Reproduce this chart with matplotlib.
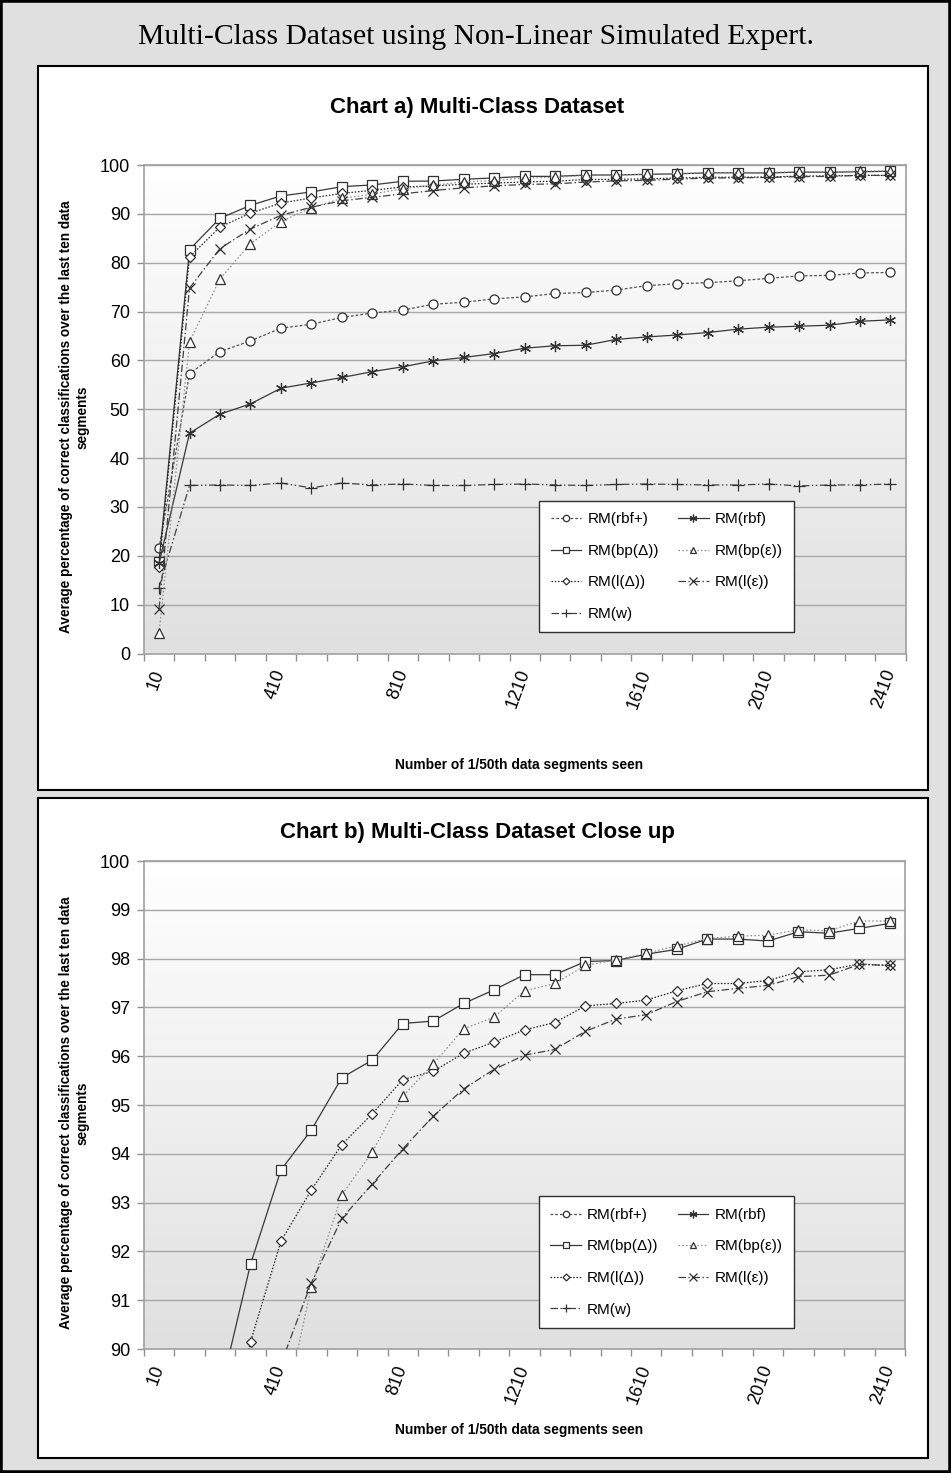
import numpy as np
import matplotlib
matplotlib.use('Agg')
import matplotlib.pyplot as plt
from matplotlib.patches import Rectangle
from matplotlib.colors import LinearSegmentedColormap

W, H = 951, 1473

# number of 1/50th data segments seen
segments = list(range(10, 2411, 100))
label_ticks = [10, 410, 810, 1210, 1610, 2010, 2410]

rbf_plus = [21.5, 57.3, 61.8, 64.0, 66.6, 67.4, 68.8, 69.7, 70.3, 71.5, 71.9, 72.6, 73.0,
            73.7, 73.9, 74.4, 75.3, 75.7, 75.9, 76.3, 76.8, 77.3, 77.4, 77.9, 78.0]
rbf = [18.5, 45.1, 49.0, 51.1, 54.3, 55.4, 56.5, 57.7, 58.7, 59.9, 60.6, 61.4, 62.5,
       63.0, 63.1, 64.3, 64.8, 65.2, 65.7, 66.4, 66.8, 67.0, 67.2, 68.0, 68.3]
bp_delta = [18.8, 82.7, 89.1, 91.74, 93.67, 94.49, 95.56, 95.92, 96.67, 96.72, 97.08, 97.36, 97.67,
            97.67, 97.94, 97.96, 98.09, 98.19, 98.40, 98.40, 98.36, 98.55, 98.52, 98.62, 98.72]
bp_eps = [4.1, 63.8, 76.7, 83.9, 88.4, 91.28, 93.16, 94.04, 95.18, 95.84, 96.56, 96.80, 97.34,
          97.49, 97.86, 97.97, 98.11, 98.26, 98.41, 98.46, 98.48, 98.59, 98.57, 98.77, 98.77]
l_delta = [17.8, 81.2, 87.3, 90.15, 92.21, 93.26, 94.19, 94.82, 95.52, 95.69, 96.06, 96.29, 96.54,
           96.69, 97.03, 97.08, 97.15, 97.34, 97.49, 97.49, 97.55, 97.73, 97.77, 97.89, 97.86]
l_eps = [9.1, 74.8, 82.9, 86.9, 89.7, 91.36, 92.68, 93.38, 94.10, 94.77, 95.33, 95.73, 96.02,
         96.14, 96.51, 96.76, 96.85, 97.12, 97.32, 97.39, 97.45, 97.63, 97.66, 97.88, 97.86]
w = [13.5, 34.4, 34.5, 34.4, 34.9, 33.9, 34.9, 34.5, 34.7, 34.4, 34.4, 34.6, 34.7,
     34.5, 34.4, 34.6, 34.7, 34.6, 34.5, 34.5, 34.7, 34.3, 34.5, 34.5, 34.7]

# legend order: first column then second column
series = [
    ('RM(rbf+)', rbf_plus, dict(color='#505050', ls=(0, (2.2, 1.6)), marker='o', ms=6.5)),
    ('RM(bp(Δ))', bp_delta, dict(color='#383838', ls='-', marker='s', ms=6.5)),
    ('RM(l(Δ))', l_delta, dict(color='#202020', ls=(0, (1.2, 1.4)), marker='D', ms=5)),
    ('RM(w)', w, dict(color='#404040', ls=(0, (6, 2, 1.2, 2, 1.2, 2)), marker='+', ms=8)),
    ('RM(rbf)', rbf, dict(color='#383838', ls='-', marker=(6, 2, 0), ms=8)),
    ('RM(bp(ε))', bp_eps, dict(color='#8a8a8a', ls=(0, (1.2, 1.8)), marker='^', ms=7)),
    ('RM(l(ε))', l_eps, dict(color='#404040', ls=(0, (6, 2, 1.2, 2)), marker='x', ms=7.5)),
]

grad = LinearSegmentedColormap.from_list('bg', ['#e0e0e0', '#ffffff'])
ylabel_text = 'Average percentage of correct classifications over the last ten data\nsegments'


def fx(x):
    return x / W


def fy(y):
    return 1 - y / H


def draw_chart(ax, ylo, yhi, ystep, title, title_y, xlabel_y, ylabel_y):
    ax.set_facecolor('none')
    ax.imshow(np.linspace(0, 1, 256).reshape(-1, 1), cmap=grad, origin='lower',
              extent=(0, 1, 0, 1), transform=ax.transAxes, aspect='auto', zorder=0)
    for lab, vals, st in series:
        ax.plot(segments, vals, label=lab, color=st['color'], linestyle=st['ls'], lw=0.9,
                marker=st['marker'], markersize=st['ms'], markeredgewidth=0.9,
                markerfacecolor='white', markeredgecolor='#303030', zorder=3)
    ax.set_xlim(-40, 2460)
    ax.set_ylim(ylo, yhi)
    ax.set_yticks(np.arange(ylo, yhi + ystep / 2, ystep))
    ax.set_yticklabels([str(int(v)) for v in np.arange(ylo, yhi + ystep / 2, ystep)])
    ax.grid(axis='y', color='#a8a8a8', lw=1.0, zorder=1)
    ax.set_axisbelow(True)
    ax.set_xticks(label_ticks)
    ax.set_xticklabels([str(t) for t in label_ticks], rotation=70, ha='right', va='center',
                       rotation_mode='anchor', fontsize=13)
    ax.set_xticks(np.arange(-40, 2461, 100), minor=True)
    ax.tick_params(axis='x', which='major', length=0, pad=12)
    ax.tick_params(axis='x', which='minor', length=5, color='#909090', width=1)
    ax.tick_params(axis='y', length=5, color='#909090', width=1, labelsize=13, pad=5)
    for s in ax.spines.values():
        s.set_color('#a0a0a0')
        s.set_linewidth(1.2)
    leg = ax.legend(ncol=2, loc='lower left', bbox_to_anchor=(0.519, 0.043), borderaxespad=0,
                    fontsize=11, frameon=True, fancybox=False, edgecolor='#303030',
                    framealpha=1, handlelength=2.0, handletextpad=0.4, labelspacing=1.15,
                    columnspacing=1.25, markerscale=0.7, borderpad=0.75)
    leg.get_frame().set_linewidth(1.0)
    fig.text(fx(477), fy(title_y), title, ha='center', va='center', fontsize=16,
             fontweight='bold')
    fig.text(fx(519.5), fy(xlabel_y), 'Number of 1/50th data segments seen', ha='center',
             va='center', fontsize=9.9, fontweight='bold')
    fig.text(fx(74), fy(ylabel_y), ylabel_text, rotation=90, ha='center', va='center',
             multialignment='center', fontsize=9.8, fontweight='bold', linespacing=1.2)


plt.rcParams['font.family'] = ['Liberation Sans', 'DejaVu Sans']

fig = plt.figure(figsize=(W / 100, H / 100), dpi=100, facecolor='#e0e0e0')

# outer frame and the two white chart panels
fig.add_artist(Rectangle((0, 0), 1, 1, transform=fig.transFigure, fill=False,
                         edgecolor='black', lw=4, zorder=-2))
for top, bot in [(66, 790), (798, 1458)]:
    fig.add_artist(Rectangle((fx(38), fy(bot)), fx(928 - 38), (bot - top) / H,
                             transform=fig.transFigure, facecolor='white',
                             edgecolor='black', lw=1.5, zorder=-1))

fig.text(0.5, fy(37), 'Multi-Class Dataset using Non-Linear Simulated Expert.',
         ha='center', va='center', fontsize=21.3, family='Liberation Serif')

ax1 = fig.add_axes([fx(143.8), fy(653.5), fx(761.9), 488.5 / H])
draw_chart(ax1, 0, 100, 10, 'Chart a) Multi-Class Dataset', 108, 765, 417)

ax2 = fig.add_axes([fx(144), fy(1349), fx(761), 488 / H])
draw_chart(ax2, 90, 100, 1, 'Chart b) Multi-Class Dataset Close up', 833, 1430, 1113)

fig.savefig('out.png', dpi=100, facecolor=fig.get_facecolor())
